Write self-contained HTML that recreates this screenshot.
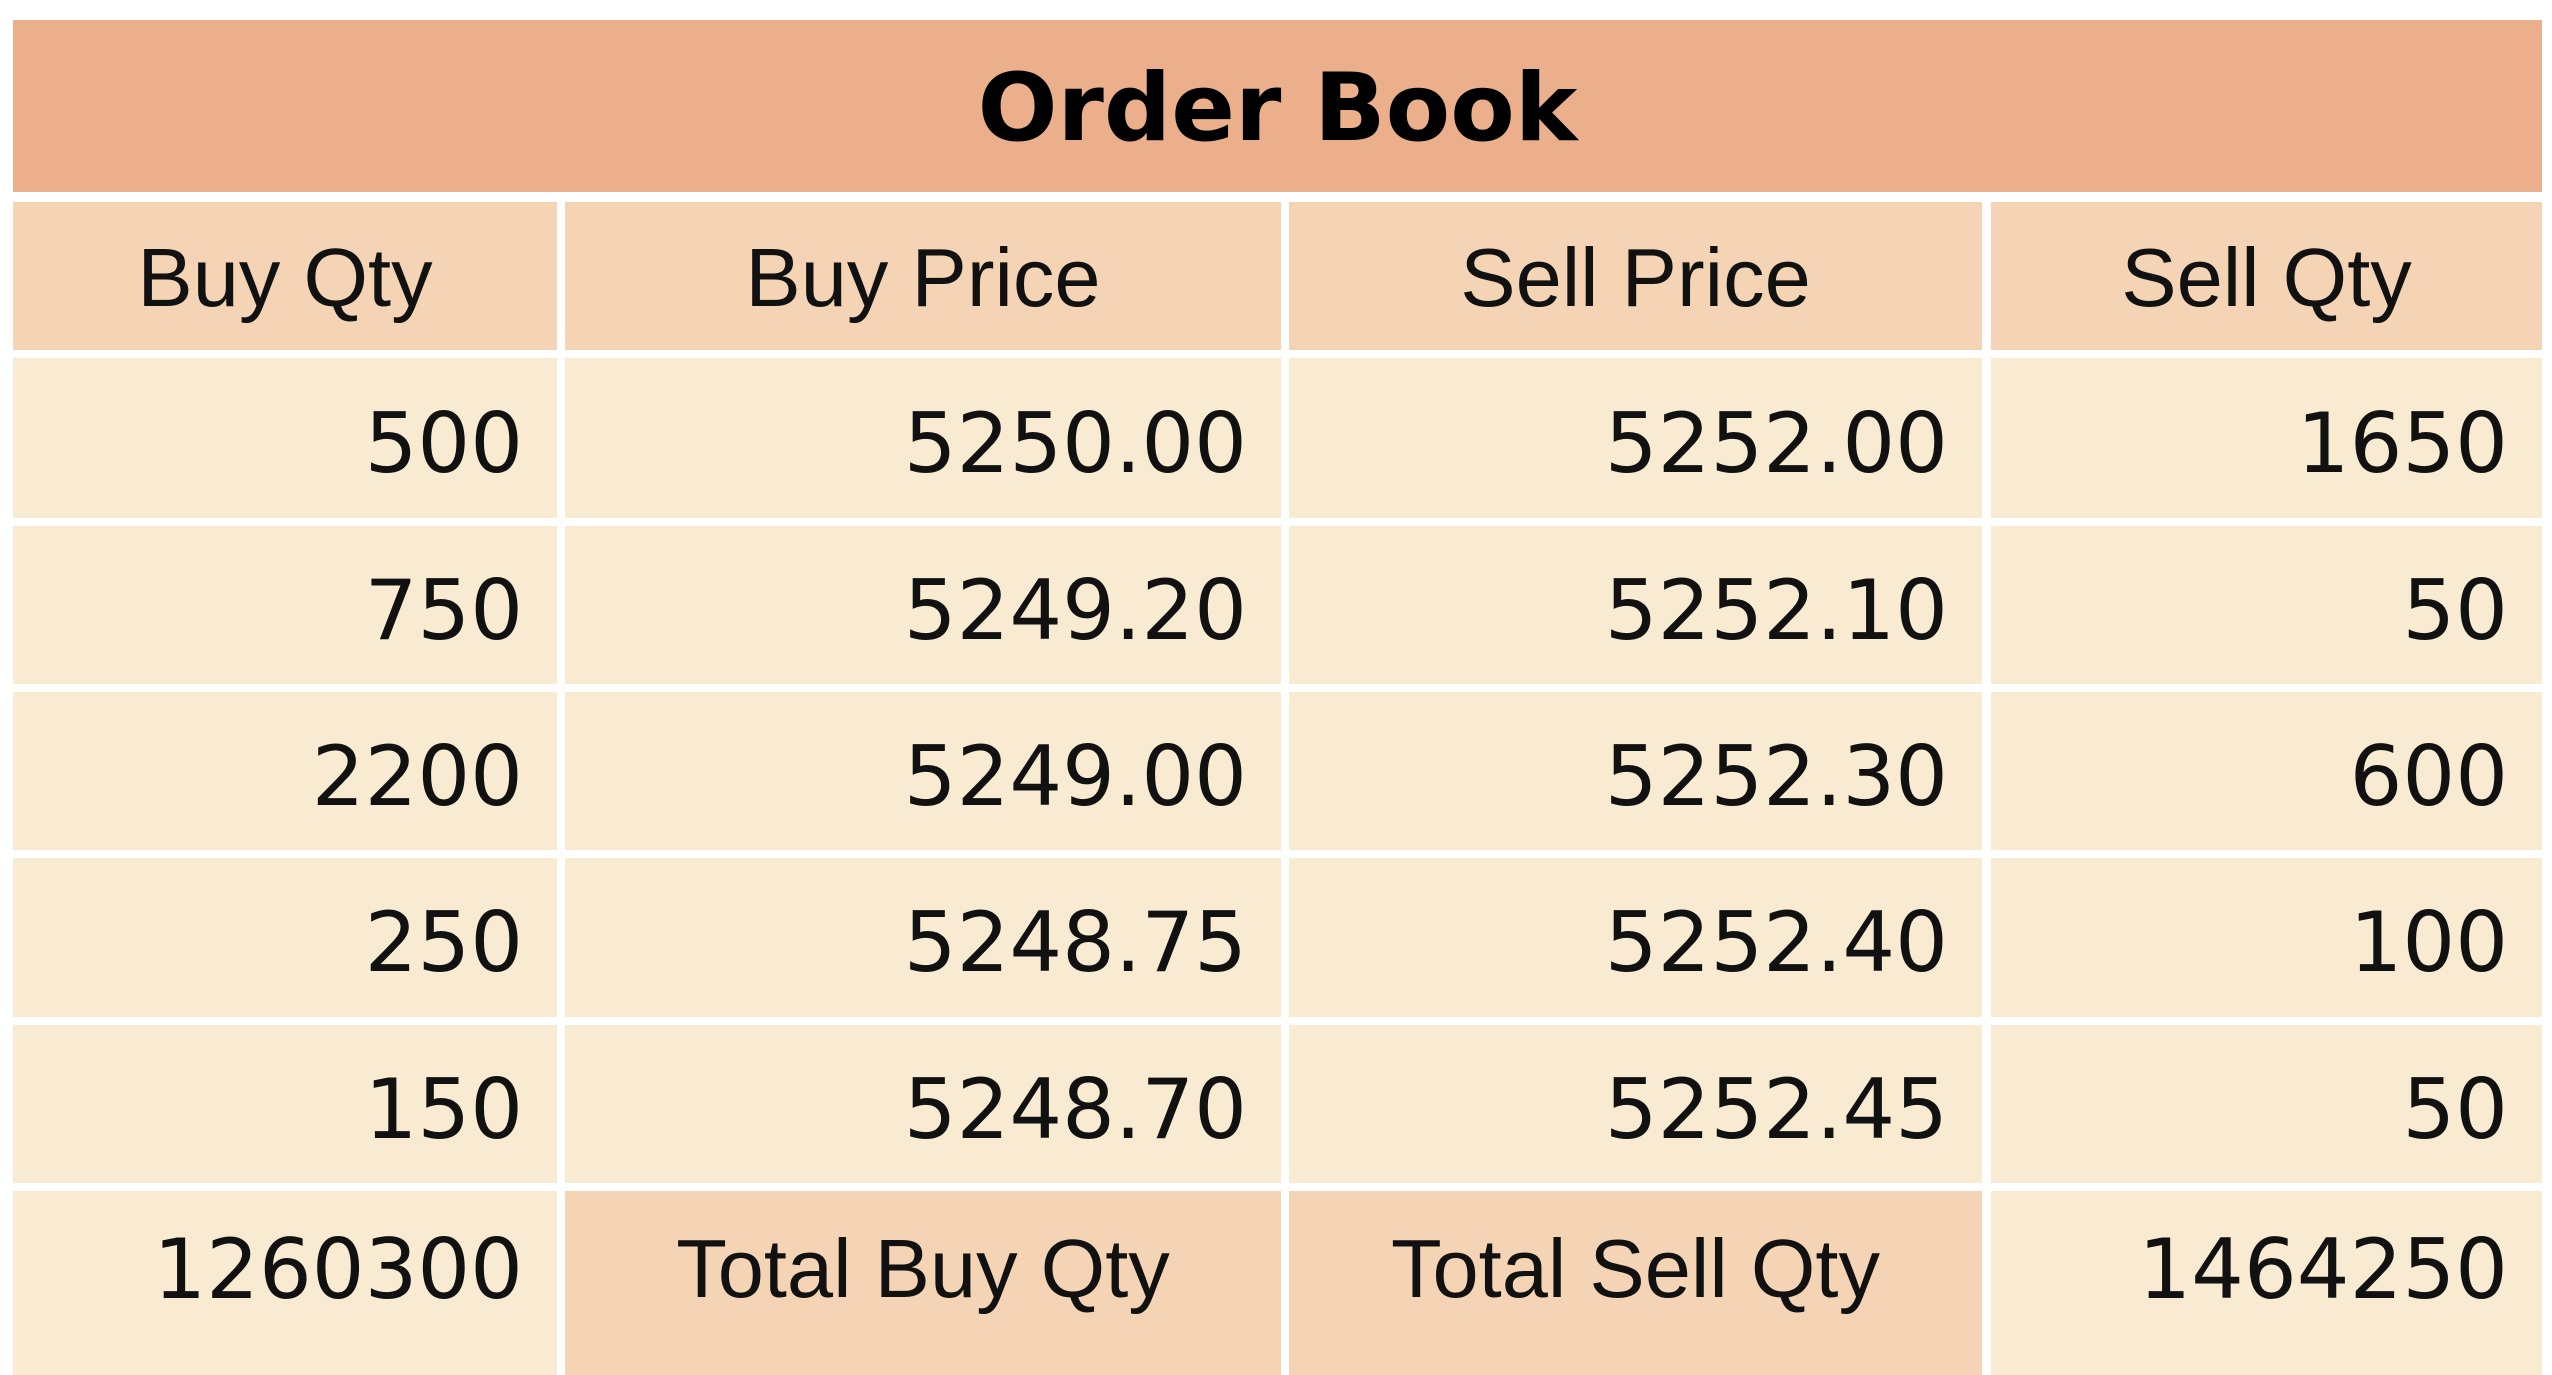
<!DOCTYPE html>
<html><head><meta charset="utf-8"><style>
html,body{margin:0;padding:0;background:#fff;width:2552px;height:1330px;overflow:hidden}
.c{position:absolute;display:flex;align-items:center;box-sizing:border-box}
.t{background:#ebb08b;justify-content:center;font:bold 94px "DejaVu Sans",sans-serif;color:#000;padding-top:4px}
.h{background:#f4d4b4;justify-content:center;font:83px "Liberation Sans",sans-serif;color:#111;padding-top:4px}
.d{background:#f8ebd2;justify-content:flex-end;padding-right:34px;padding-top:10px;font:83px "DejaVu Sans",sans-serif;color:#111}
</style></head><body>
<div id="root"></div>
<script>
const headers=["Buy Qty","Buy Price","Sell Price","Sell Qty"];
const buyQty=["500","750","2200","250","150"];
const buyPrice=["5250.00","5249.20","5249.00","5248.75","5248.70"];
const sellPrice=["5252.00","5252.10","5252.30","5252.40","5252.45"];
const sellQty=["1650","50","600","100","50"];
const totals=["1260300","Total Buy Qty","Total Sell Qty","1464250"];
const root=document.getElementById('root');
const cols=[[13,557],[565,1281],[1289,1982],[1991,2542]];
function cell(cls,x0,x1,y0,y1,txt){
  const e=document.createElement('div');
  e.className='c '+cls;
  e.style.left=x0+'px';e.style.width=(x1-x0)+'px';
  e.style.top=y0+'px';e.style.height=(y1-y0)+'px';
  e.textContent=txt;root.appendChild(e);return e;
}
const t=cell('t',13,2542,20,192,'Order Book');


headers.forEach((h,i)=>{
  const e=cell('h',cols[i][0],cols[i][1],202,350,h);
  
  
});
const rowsY=[[358,518],[526,684],[692,850],[858,1017],[1025,1183]];
const data=[buyQty,buyPrice,sellPrice,sellQty];
rowsY.forEach((ry,r)=>{
  data.forEach((arr,i)=>{
    const e=cell('d',cols[i][0],cols[i][1],ry[0],ry[1],arr[r]);
    
    
  });
});
totals.forEach((v,i)=>{
  const cls=(i==1||i==2)?'h':'d';
  const e=cell(cls,cols[i][0],cols[i][1],1191,1375,v);
  e.style.alignItems='flex-start';e.style.paddingTop='30px';
  
  
});
</script>
</body></html>
